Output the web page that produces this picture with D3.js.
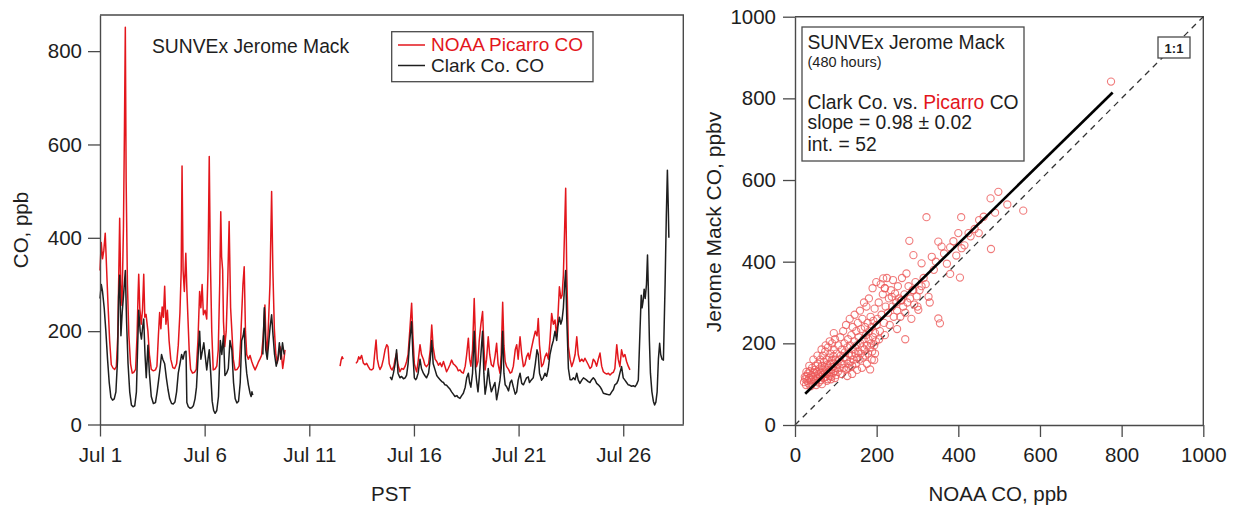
<!DOCTYPE html>
<html>
<head>
<meta charset="utf-8">
<script src="https://cdn.jsdelivr.net/npm/d3@7"></script>
<style>
  html, body { margin: 0; padding: 0; background: #fff; }
  svg { display: block; }
  text { font-family: "Liberation Sans", Arial, Helvetica, sans-serif; fill: #1e1e1e; }
</style>
</head>
<body>
<svg id="chart" width="1243" height="508"></svg>
<script>
// ---------------- Time series (days since Jul 1 00:00 PST, CO in ppb) ----------------
// null entries mark gaps in the record
const noaaDays = [
  0.00,0.06,0.12,0.18,0.25,0.31,0.38,0.46,0.54,0.62,0.70,0.78,0.85,0.90,0.94,0.99,1.05,1.12,1.17,1.21,1.25,1.31,1.38,1.46,1.54,1.62,1.70,1.77,1.82,1.85,1.90,1.97,2.03,2.09,2.14,2.20,2.29,2.36,2.45,2.55,2.65,2.72,2.79,2.85,2.91,2.97,3.03,3.09,3.15,3.22,3.30,3.38,3.48,3.57,3.66,3.74,3.82,3.88,3.92,3.97,4.03,4.10,4.15,4.20,4.26,4.33,4.42,4.52,4.60,4.68,4.76,4.82,4.88,4.94,5.02,5.10,5.16,5.22,5.27,5.34,5.41,5.50,5.58,5.65,5.72,5.77,5.81,5.86,5.90,5.96,6.03,6.10,6.17,6.24,6.30,6.37,6.45,6.55,6.65,6.72,6.77,6.83,6.89,6.95,7.01,7.09,7.17,7.25,7.33,7.41,7.49,7.56,7.64,7.72,7.80,7.88,7.93,7.98,8.04,8.12,8.20,8.26,8.33,8.40,8.47,8.54,8.60,8.67,8.73,8.79,8.84,
  null,
  11.47,11.52,11.57,11.62,
  null,
  12.23,12.30,12.36,12.42,12.50,12.58,12.66,12.74,12.82,12.90,12.98,13.06,13.12,13.19,13.25,13.32,13.38,13.46,13.54,13.62,13.70,13.76,13.82,13.90,13.96,14.04,14.10,14.17,14.24,14.33,14.41,14.50,14.58,14.65,14.72,14.80,14.89,14.95,15.02,15.08,15.13,15.20,15.29,15.36,15.45,15.52,15.60,15.70,15.78,15.85,15.92,16.01,16.09,16.17,16.25,16.33,16.41,16.48,16.56,16.64,16.72,16.80,16.88,16.96,17.05,17.12,17.20,17.28,17.36,17.45,17.52,17.60,17.66,17.72,17.80,17.88,17.94,17.99,18.06,18.12,18.20,18.28,18.34,18.40,18.47,18.55,18.62,18.70,18.79,18.87,18.95,19.02,19.11,19.17,19.24,19.30,19.36,19.43,19.52,19.60,19.67,19.75,19.84,19.91,19.98,20.07,20.15,20.23,20.30,20.38,20.46,20.52,20.60,20.70,20.80,20.88,20.94,21.00,21.10,21.18,21.26,21.34,21.42,21.50,21.58,21.66,21.74,21.82,21.88,21.95,22.02,22.08,22.14,22.20,22.25,22.30,22.38,22.46,22.54,22.62,22.70,22.78,22.85,22.93,23.02,23.10,23.17,23.25,23.33,23.41,23.49,23.57,23.65,23.73,23.81,23.89,23.97,24.05,24.13,24.21,24.29,24.37,24.45,24.53,24.60,24.69,24.76,24.84,24.92,25.00,25.08,25.16,25.24,25.32
];
const noaaCO = [
  330,390,355,372,410,340,260,180,128,121,118,124,190,330,442,300,255,420,640,851,520,300,190,130,110,112,118,190,280,322,250,215,245,322,230,236,200,150,118,115,117,125,190,240,205,252,230,296,215,245,180,140,122,120,130,170,240,330,554,330,285,367,290,230,160,118,110,112,118,180,285,250,300,235,245,226,330,574,360,200,117,119,125,160,300,456,360,331,220,167,200,300,435,250,200,140,117,118,125,180,236,300,338,200,150,140,148,135,125,117,125,133,140,148,190,256,180,148,205,300,499,330,205,150,132,150,167,150,120,140,160,
  null,
  125,138,145,140,
  null,
  131,135,145,140,148,132,128,131,124,118,117,120,150,181,140,125,118,125,140,160,171,167,130,120,117,125,140,153,128,113,120,118,125,135,150,200,260,190,130,120,113,135,171,150,140,128,124,130,160,213,165,140,135,127,132,124,135,125,113,120,128,138,130,127,122,115,117,112,110,125,150,185,140,125,160,270,180,124,135,180,215,242,170,117,140,188,150,128,124,145,174,130,110,150,262,170,135,124,118,110,112,125,160,171,140,188,150,124,128,145,153,140,160,181,200,190,227,170,124,130,145,153,140,180,238,215,224,188,230,295,270,277,320,420,506,330,167,140,124,135,150,188,150,135,140,135,142,135,128,120,124,140,135,125,140,153,125,113,110,108,110,106,110,112,120,171,140,124,160,145,150,135,125,117
];

const clarkDays = [
  0.00,0.06,0.12,0.20,0.28,0.36,0.44,0.52,0.60,0.68,0.76,0.84,0.89,0.94,1.00,1.06,1.13,1.21,1.27,1.34,1.42,1.50,1.58,1.66,1.74,1.80,1.85,1.92,1.98,2.04,2.09,2.15,2.21,2.29,2.36,2.45,2.55,2.65,2.73,2.80,2.87,2.94,3.00,3.09,3.17,3.25,3.33,3.42,3.50,3.58,3.66,3.74,3.82,3.90,3.97,4.04,4.11,4.15,4.22,4.30,4.38,4.46,4.54,4.61,4.69,4.76,4.82,4.90,4.96,5.02,5.10,5.16,5.22,5.29,5.36,5.43,5.50,5.58,5.66,5.75,5.82,5.90,5.97,6.05,6.13,6.21,6.30,6.38,6.46,6.54,6.62,6.70,6.77,6.84,6.89,6.95,7.01,7.09,7.17,7.22,7.26,7.30,
  null,
  7.78,7.85,7.92,7.99,8.06,8.13,8.20,8.27,8.34,8.42,8.50,8.57,8.64,8.72,8.80,
  null,
  13.86,13.94,14.02,14.10,14.17,14.24,14.33,14.41,14.50,14.58,14.65,14.72,14.80,14.89,14.95,15.02,15.08,15.13,15.20,15.29,15.36,15.45,15.52,15.60,15.70,15.78,15.85,15.92,16.01,16.09,16.17,16.25,16.33,16.41,16.48,16.56,16.64,16.72,16.80,16.88,16.96,17.05,17.12,17.20,17.28,17.36,17.45,17.52,17.60,17.66,17.72,17.80,17.88,17.94,17.99,18.06,18.12,18.20,18.28,18.34,18.40,18.47,18.55,18.62,18.70,18.79,18.87,18.95,19.02,19.11,19.17,19.24,19.30,19.36,19.43,19.52,19.60,19.67,19.75,19.84,19.91,19.98,20.07,20.15,20.23,20.30,20.38,20.46,20.52,20.60,20.70,20.80,20.88,20.94,21.00,21.10,21.18,21.26,21.34,21.42,21.50,21.58,21.66,21.74,21.82,21.88,21.95,22.02,22.08,22.14,22.20,22.25,22.30,22.38,22.46,22.54,22.62,22.70,22.78,22.85,22.93,23.02,23.10,23.17,23.25,23.33,23.41,23.49,23.57,23.65,23.73,23.81,23.89,23.97,24.05,24.13,24.21,24.29,24.37,24.45,24.53,24.60,24.69,24.76,24.84,24.92,25.00,25.08,25.16,25.24,25.32,25.40,25.48,25.56,25.64,25.72,25.80,25.86,25.90,25.95,26.00,26.05,26.11,26.16,26.20,26.25,26.30,26.37,26.44,26.50,26.56,26.62,26.68,26.74,26.79,26.85,26.92,27.00,27.06,27.11,27.15,27.18,27.20
];
const clarkCO = [
  270,300,285,250,200,140,90,58,52,55,70,140,274,320,190,240,280,330,220,130,70,42,38,40,70,170,245,200,183,210,226,150,100,170,110,60,45,47,70,95,120,150,140,130,100,75,55,45,44,48,70,110,130,150,140,155,157,47,38,35,36,40,55,80,150,200,140,160,175,150,117,140,160,110,50,30,24,30,60,180,150,190,105,110,120,180,160,90,55,46,50,90,180,190,206,140,110,85,67,60,70,63,
  null,
  150,250,160,140,175,210,235,190,150,125,140,175,140,175,150,
  null,
  102,96,110,130,160,110,100,103,98,100,106,130,180,220,150,100,96,99,110,140,120,110,105,100,110,140,180,130,117,105,100,96,92,90,85,84,80,76,70,65,60,62,58,56,62,67,80,100,110,90,80,110,200,120,95,70,100,150,200,110,65,85,120,90,70,81,90,53,70,95,120,200,110,85,81,72,90,95,80,65,70,95,110,88,85,92,100,102,90,95,100,130,160,150,110,95,100,110,103,120,150,167,180,200,180,210,230,215,225,250,300,330,230,120,96,96,100,96,110,95,88,95,100,98,95,92,90,96,100,96,88,85,81,75,67,66,65,64,64,70,75,85,88,95,110,124,100,95,90,85,84,82,83,81,86,95,200,277,250,265,290,270,300,363,290,180,110,70,50,42,48,70,140,174,150,140,138,300,450,545,470,400
];

// ---------------- Scatter: hourly pairs ----------------
const scatterNoaa = [
  22,25,27,28,30,32,33,35,36,38,40,41,42,44,45,46,48,49,50,51,52,53,55,56,57,58,60,61,62,63,64,66,67,68,69,70,71,72,73,74,75,76,77,78,79,80,81,82,83,84,85,86,87,88,89,90,91,92,93,94,95,96,97,98,99,100,100,35,45,55,28,65,75,85,95,24,38,52,66,78,88,98,
  102,104,105,106,108,110,111,112,114,115,116,118,119,120,121,122,124,125,126,128,129,130,131,132,134,135,136,138,139,140,141,142,144,145,146,148,149,150,151,152,154,155,156,158,159,160,161,162,164,165,166,168,169,170,171,172,174,175,176,178,179,180,181,182,184,185,186,188,189,190,191,192,194,195,196,198,199,200,188,176,164,152,140,128,196,206,
  202,205,208,210,212,215,218,220,222,225,228,230,232,235,238,240,242,245,248,250,252,255,258,260,262,265,268,270,273,275,278,280,282,285,288,290,292,295,298,300,216,220,237,261,220,250,270,184,194,
  302,305,310,315,320,322,327,335,340,345,351,351,355,359,365,372,380,388,395,404,407,408,415,425,430,440,451,462,479,480,490,498,520,559,774,310,330,290,380,400,450
];
const scatterJerome = [
  105,112,98,120,108,126,102,115,132,110,122,100,140,118,105,128,112,135,145,108,120,130,115,150,125,104,138,118,160,128,110,145,122,170,135,115,155,128,142,180,118,135,160,125,148,112,190,140,130,165,120,150,175,135,118,158,200,142,128,168,185,150,132,210,160,140,122,145,160,170,130,185,195,205,225,118,95,98,100,108,112,115,
  175,150,130,195,160,140,215,170,125,185,150,230,165,140,200,178,135,245,160,190,150,210,140,175,260,195,155,220,170,145,240,185,160,205,270,175,150,230,195,165,250,180,215,160,280,200,175,235,190,260,165,210,300,185,240,170,220,290,195,250,175,210,310,230,190,265,200,240,180,335,215,255,195,285,225,205,350,245,160,150,140,135,125,120,175,210,
  260,300,230,345,270,320,250,335,290,360,275,310,245,330,290,355,265,322,300,280,340,310,265,305,360,290,320,275,371,300,340,451,310,260,330,416,295,350,315,290,359,335,314,306,220,235,210,136,159,
  282,330,396,360,345,509,314,412,380,400,449,261,249,437,420,395,435,450,415,361,509,433,440,470,462,480,502,510,555,431,520,571,540,525,841,340,300,330,370,470,470
];

// Regression of Clark Co. vs. Picarro CO
const fitSlope = 0.98;
const fitIntercept = 52;
const fitRange = [25, 778];

// Tick values
const dateTicks = [1, 6, 11, 16, 21, 26];
const leftYTicks = [0, 200, 400, 600, 800];
const rightTicks = [0, 200, 400, 600, 800, 1000];

// ---------------- Drawing ----------------
const svg = d3.select("#chart");
const RED = "#e3161c";
const INK = "#1e1e1e";
const AXIS = "#4a4a4a";
const FONT_TICK = 20.5;
const FONT_LABEL = 20.5;

const t0 = Date.UTC(2021, 6, 1);
const toDate = d => new Date(t0 + d * 864e5);

// Left panel: time series
const L = { x0: 100, x1: 683.3, y0: 15, y1: 424.5 };
const xT = d3.scaleUtc().domain([toDate(0), toDate(27.87)]).range([L.x0, L.x1]);
const yT = d3.scaleLinear().domain([0, 877.4]).range([L.y1, L.y0]);

const left = svg.append("g");

function series(days, vals) {
  return days.map((d, i) => ({ d: d, v: vals[i] }));
}
const line = d3.line()
  .defined(p => p.d !== null && p.v !== null)
  .x(p => xT(toDate(p.d)))
  .y(p => yT(p.v));

left.append("path")
  .datum(series(noaaDays, noaaCO))
  .attr("d", line)
  .attr("fill", "none")
  .attr("stroke", RED)
  .attr("stroke-width", 1.5)
  .attr("stroke-linejoin", "round");

left.append("path")
  .datum(series(clarkDays, clarkCO))
  .attr("d", line)
  .attr("fill", "none")
  .attr("stroke", INK)
  .attr("stroke-width", 1.5)
  .attr("stroke-linejoin", "round");

// frame (top and right)
left.append("path")
  .attr("d", `M${L.x0},${L.y0}H${L.x1}V${L.y1}`)
  .attr("fill", "none").attr("stroke", AXIS).attr("stroke-width", 1.4);

left.append("g").attr("transform", `translate(${L.x0},0)`)
  .call(d3.axisLeft(yT).tickValues(leftYTicks).tickFormat(d3.format("d"))
    .tickSize(12).tickPadding(6).tickSizeOuter(0));
left.append("g").attr("transform", `translate(0,${L.y1})`)
  .call(d3.axisBottom(xT).tickValues(dateTicks.map(d => toDate(d - 1)))
    .tickFormat(d3.utcFormat("%b %-d")).tickSize(12).tickPadding(10.5).tickSizeOuter(0));

// Legend box
const lg = left.append("g");
lg.append("rect").attr("x", 391.7).attr("y", 31.7).attr("width", 201.3).attr("height", 50)
  .attr("fill", "#fff").attr("stroke", AXIS).attr("stroke-width", 1.3);
lg.append("line").attr("x1", 398).attr("x2", 425).attr("y1", 45).attr("y2", 45)
  .attr("stroke", RED).attr("stroke-width", 1.5);
lg.append("line").attr("x1", 398).attr("x2", 425).attr("y1", 65.5).attr("y2", 65.5)
  .attr("stroke", INK).attr("stroke-width", 1.5);
lg.append("text").attr("x", 431).attr("y", 50.8).attr("font-size", 19)
  .style("fill", RED).text("NOAA Picarro CO");
lg.append("text").attr("x", 431).attr("y", 72.3).attr("font-size", 19).text("Clark Co. CO");

left.append("text").attr("x", 152).attr("y", 53).attr("font-size", 19.3).text("SUNVEx Jerome Mack");

left.append("text").attr("transform", "translate(28,230) rotate(-90)")
  .attr("text-anchor", "middle").attr("font-size", FONT_LABEL).text("CO, ppb");
left.append("text").attr("x", 391).attr("y", 501)
  .attr("text-anchor", "middle").attr("font-size", FONT_LABEL).text("PST");

// Right panel: scatter
const R = { x0: 795, x1: 1203.3, y0: 16.7, y1: 425 };
const xS = d3.scaleLinear().domain([0, 1000]).range([R.x0, R.x1]);
const yS = d3.scaleLinear().domain([0, 1000]).range([R.y1, R.y0]);
const right = svg.append("g");

right.append("path")
  .attr("d", `M${R.x0},${R.y0}H${R.x1}V${R.y1}`)
  .attr("fill", "none").attr("stroke", AXIS).attr("stroke-width", 1.4);

// 1:1 reference
right.append("line")
  .attr("x1", xS(0)).attr("y1", yS(0)).attr("x2", xS(1000)).attr("y2", yS(1000))
  .attr("stroke", "#333").attr("stroke-width", 1.3).attr("stroke-dasharray", "6,5");

// points
right.append("g").selectAll("circle")
  .data(scatterNoaa.map((x, i) => [x, scatterJerome[i]]))
  .join("circle")
  .attr("cx", d => xS(d[0])).attr("cy", d => yS(d[1])).attr("r", 3.6)
  .attr("fill", "none").attr("stroke", "#ec5a5a").attr("stroke-opacity", 0.8).attr("stroke-width", 1.1);

// fit line
right.append("line")
  .attr("x1", xS(fitRange[0])).attr("y1", yS(fitSlope * fitRange[0] + fitIntercept))
  .attr("x2", xS(fitRange[1])).attr("y2", yS(fitSlope * fitRange[1] + fitIntercept))
  .attr("stroke", "#000").attr("stroke-width", 2.6);

right.append("g").attr("transform", `translate(${R.x0},0)`)
  .call(d3.axisLeft(yS).tickValues(rightTicks).tickFormat(d3.format("d"))
    .tickSize(12).tickPadding(7).tickSizeOuter(0));
right.append("g").attr("transform", `translate(0,${R.y1})`)
  .call(d3.axisBottom(xS).tickValues(rightTicks).tickFormat(d3.format("d"))
    .tickSize(12).tickPadding(10.5).tickSizeOuter(0));

// 1:1 tag
right.append("rect").attr("x", 1158).attr("y", 37).attr("width", 32).attr("height", 21)
  .attr("fill", "#fff").attr("stroke", AXIS).attr("stroke-width", 1.3);
right.append("text").attr("x", 1174).attr("y", 52.5).attr("text-anchor", "middle")
  .attr("font-size", 13).attr("font-weight", "bold").text("1:1");

// annotation box
const ab = right.append("g");
ab.append("rect").attr("x", 802).attr("y", 27).attr("width", 222).attr("height", 134)
  .attr("fill", "#fff").attr("stroke", AXIS).attr("stroke-width", 1.3);
ab.append("text").attr("x", 807.5).attr("y", 49).attr("font-size", 19.3).text("SUNVEx Jerome Mack");
ab.append("text").attr("x", 807.5).attr("y", 66.5).attr("font-size", 14.5).text("(480 hours)");
const vs = ab.append("text").attr("x", 807.5).attr("y", 108.5).attr("font-size", 19.3);
vs.append("tspan").text("Clark Co. vs. ");
vs.append("tspan").style("fill", RED).text("Picarro");
vs.append("tspan").text(" CO");
ab.append("text").attr("x", 807.5).attr("y", 129).attr("font-size", 19.3).text("slope = 0.98 \u00b1 0.02");
ab.append("text").attr("x", 807.5).attr("y", 151).attr("font-size", 19.3).text("int. = 52");

right.append("text").attr("transform", "translate(721,222) rotate(-90)")
  .attr("text-anchor", "middle").attr("font-size", 21).text("Jerome Mack CO, ppbv");
right.append("text").attr("x", 998).attr("y", 501)
  .attr("text-anchor", "middle").attr("font-size", FONT_LABEL).text("NOAA CO, ppb");

// shared axis styling
svg.selectAll(".domain").attr("stroke", AXIS).attr("stroke-width", 1.4);
svg.selectAll(".tick line").attr("stroke", AXIS).attr("stroke-width", 1.3);
svg.selectAll(".tick text").attr("font-size", FONT_TICK)
  .attr("font-family", "'Liberation Sans', Arial, Helvetica, sans-serif").style("fill", INK);
</script>
</body>
</html>
